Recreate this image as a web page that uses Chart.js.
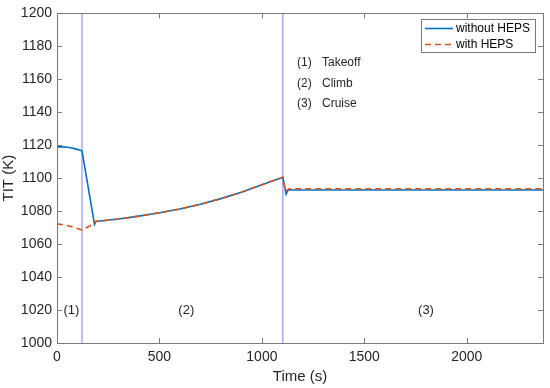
<!DOCTYPE html>
<html>
<head>
<meta charset="utf-8">
<script src="https://cdn.jsdelivr.net/npm/chart.js@4.4.1/dist/chart.umd.min.js"></script>
<style>
html,body{margin:0;padding:0;background:#fff;}
#wrap{width:550px;height:388px;position:relative;}
</style>
</head>
<body>
<div id="wrap"><canvas id="c" width="550" height="388"></canvas></div>
<script>
// ---- data ----
const blueTime = [0, 30, 60, 90, 122, 183, 190, 300, 400, 500, 600, 700, 800, 900, 1000, 1102, 1118, 1128, 2372];
const blueTIT  = [1119, 1119, 1118.6, 1117.8, 1116.6, 1072, 1073.8, 1075.2, 1077, 1079, 1081.3, 1084.2, 1087.6, 1091.5, 1096, 1100.6, 1090.4, 1092.8, 1092.8];
const redTime  = [0, 40, 80, 122, 160, 190, 300, 400, 500, 600, 700, 800, 900, 1000, 1102, 1115, 1133, 2372];
const redTIT   = [1072.3, 1071.5, 1070.3, 1068.6, 1071, 1073.8, 1075.2, 1077, 1079, 1081.3, 1084.2, 1087.6, 1091.5, 1096, 1100.6, 1092, 1093.6, 1093.6];
const phaseBounds = [122, 1102];
const seriesNames = ['without HEPS', 'with HEPS'];
const phaseNames = ['(1)  Takeoff', '(2)  Climb', '(3)  Cruise'];
const phaseMarks = [{t: 70, label: '(1)'}, {t: 631, label: '(2)'}, {t: 1801, label: '(3)'}];
const xTicks = [0, 500, 1000, 1500, 2000];
const yMin = 1000, yMax = 1200, yStep = 20, xMin = 0, xMax = 2372;

const BLUE = '#0072BD', RED = '#D95319', VLINE = '#a9a9ff', AX = '#262626', FRAME = '#7a7a7a';
const FONT = '"Liberation Sans", Arial, Helvetica, sans-serif';

const toPts = (ts, vs) => ts.map((t, i) => ({x: t, y: vs[i]}));

const datasets = [
  {label: seriesNames[0], data: toPts(blueTime, blueTIT), borderColor: BLUE, borderWidth: 1.6, pointRadius: 0, fill: false, tension: 0, order: 2},
  {label: seriesNames[1], data: toPts(redTime, redTIT), borderColor: RED, borderWidth: 1.6, borderDash: [6, 4], pointRadius: 0, fill: false, tension: 0, order: 1},
];
phaseBounds.forEach(t => datasets.push({label: '', data: [{x: t, y: yMin}, {x: t, y: yMax}], borderColor: VLINE, borderWidth: 1.5, pointRadius: 0, fill: false, order: 3}));

const framePlugin = {
  id: 'frame',
  afterDraw(chart) {
    const {ctx, chartArea: a, scales} = chart;
    const xs = scales.x, ys = scales.y;
    ctx.save();
    ctx.strokeStyle = FRAME; ctx.lineWidth = 1;
    ctx.strokeRect(Math.round(a.left) + 0.5, Math.round(a.top) + 0.5, Math.round(a.right - a.left), Math.round(a.bottom - a.top));
    const L = 5;
    ctx.beginPath();
    xTicks.forEach(v => {
      const px = Math.round(xs.getPixelForValue(v)) + 0.5;
      ctx.moveTo(px, a.bottom); ctx.lineTo(px, a.bottom - L);
      ctx.moveTo(px, a.top); ctx.lineTo(px, a.top + L);
    });
    for (let v = yMin; v <= yMax; v += yStep) {
      const py = Math.round(ys.getPixelForValue(v)) + 0.5;
      ctx.moveTo(a.left, py); ctx.lineTo(a.left + L, py);
      ctx.moveTo(a.right, py); ctx.lineTo(a.right - L, py);
    }
    ctx.stroke();

    ctx.fillStyle = AX;
    ctx.textBaseline = 'middle';
    ctx.textAlign = 'center';
    ctx.font = '13px ' + FONT;
    phaseMarks.forEach(p => ctx.fillText(p.label, xs.getPixelForValue(p.t), ys.getPixelForValue(1020)));

    ctx.textAlign = 'left';
    ctx.font = '12px ' + FONT;
    phaseNames.forEach((s, i) => {
      const parts = s.split('  ');
      const y = 63 + i * 20.3;
      ctx.fillText(parts[0], 297, y);
      ctx.fillText(parts[1], 322, y);
    });

    const bx = 421.5, by = 19.5, bw = 114, bh = 33;
    ctx.fillStyle = '#fff';
    ctx.fillRect(bx, by, bw, bh);
    ctx.strokeStyle = FRAME; ctx.lineWidth = 1;
    ctx.strokeRect(bx, by, bw, bh);
    const rows = [{c: BLUE, dash: [], y: 28.5}, {c: RED, dash: [6, 4], y: 44.5}];
    rows.forEach((r, i) => {
      ctx.strokeStyle = r.c; ctx.lineWidth = 1.6; ctx.setLineDash(r.dash);
      ctx.beginPath(); ctx.moveTo(425, r.y); ctx.lineTo(453, r.y); ctx.stroke();
      ctx.setLineDash([]);
      ctx.fillStyle = '#000';
      ctx.font = '12px ' + FONT;
      ctx.fillText(seriesNames[i], 456, r.y);
    });
    ctx.restore();
  }
};

new Chart(document.getElementById('c'), {
  type: 'line',
  data: {datasets},
  options: {
    responsive: false,
    animation: false,
    events: [],
    layout: {padding: {top: 12, right: 7, left: 0, bottom: 0}},
    plugins: {legend: {display: false}, tooltip: {enabled: false}},
    scales: {
      x: {
        type: 'linear', min: xMin, max: xMax,
        afterFit(s) { s.height = 45; },
        afterBuildTicks(s) { s.ticks = xTicks.map(v => ({value: v})); },
        grid: {display: false, drawTicks: false},
        border: {display: false},
        ticks: {color: AX, font: {size: 14, family: FONT}, padding: 6, maxRotation: 0, autoSkip: false, callback: v => String(v)},
        title: {display: true, text: 'Time (s)', color: AX, font: {size: 15, family: FONT}, padding: {top: 0, bottom: 2}}
      },
      y: {
        type: 'linear', min: yMin, max: yMax,
        afterFit(s) { s.width = 57; },
        grid: {display: false, drawTicks: false},
        border: {display: false},
        ticks: {stepSize: yStep, color: AX, font: {size: 14, family: FONT}, padding: 5, autoSkip: false, callback: v => String(v)},
        title: {display: true, text: 'TIT (K)', color: AX, font: {size: 15, family: FONT}, padding: {top: 0, bottom: 0}}
      }
    }
  },
  plugins: [framePlugin]
});
</script>
</body>
</html>
